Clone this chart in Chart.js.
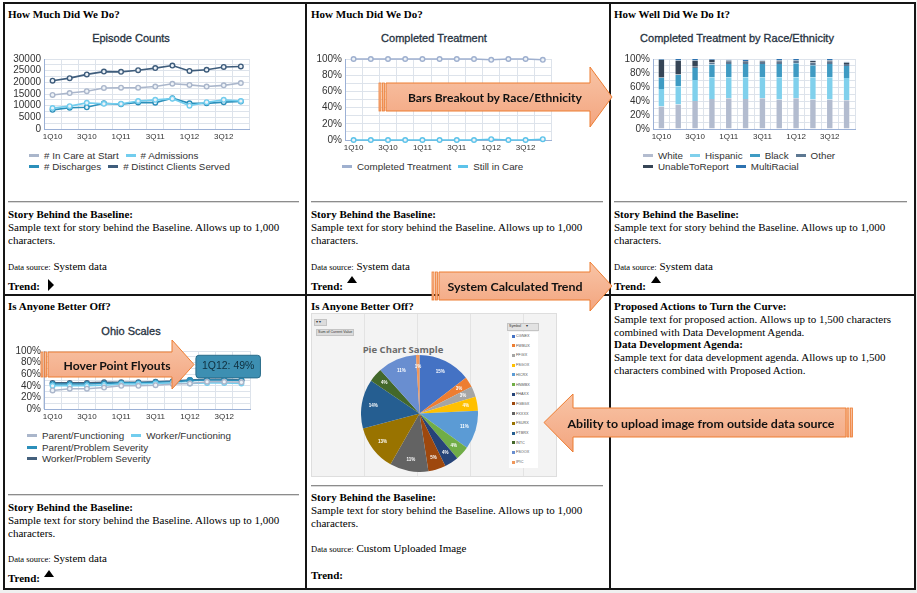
<!DOCTYPE html>
<html><head><meta charset="utf-8">
<script src="https://cdn.jsdelivr.net/npm/chart.js@4.4.1/dist/chart.umd.min.js"></script>
<style>
html,body{margin:0;padding:0;}
body{width:917px;height:593px;position:relative;overflow:hidden;background:#f0f0f0;color:#000;}
#sheet{position:absolute;left:0;top:0;width:916px;height:590px;background:#fff;}
.vl{position:absolute;width:2px;background:#151515;top:2px;height:588px;}
.hl{position:absolute;height:2px;background:#151515;left:3px;width:913px;}
.tx{position:absolute;font:11px/13px "Liberation Serif",serif;white-space:nowrap;}
.b{font-weight:bold;}
.sm{font-size:8.5px;}
.hr{position:absolute;height:0;border-top:1px solid #8c8c8c;border-bottom:1px solid #dadada;}
.ct{position:absolute;font:11px "Liberation Sans",sans-serif;color:#26323f;white-space:nowrap;transform:translateX(-50%);line-height:13px;-webkit-text-stroke:0.3px #26323f;}
.lg{position:absolute;font:9.8px/11.5px "Liberation Sans",sans-serif;color:#333;}
.row{display:flex;white-space:nowrap;}
.li{display:flex;align-items:center;margin-right:7px;}
.sw{display:inline-block;width:10px;height:3px;margin-right:5px;}
.tri-r{position:absolute;width:0;height:0;border-left:6px solid #000;border-top:6px solid transparent;border-bottom:6px solid transparent;}
.tri-u{position:absolute;width:0;height:0;border-bottom:7px solid #000;border-left:5px solid transparent;border-right:5px solid transparent;}
#pieimg{position:absolute;left:311px;top:313px;width:244px;height:162px;background:#f3f3f3;
 background-image:repeating-linear-gradient(90deg,transparent 0 52px,#e3e3e3 52px 53px);border:1px solid #dedede;}
.pbtn{position:absolute;background:#dcdcdc;border:1px solid #c4c4c4;font:3.6px/5px "Liberation Sans";color:#333;white-space:nowrap;padding:0 1px;}
.ptitle{position:absolute;left:403px;top:344px;transform:translateX(-50%);font:bold 9.5px/11px "Open Sans",sans-serif;color:#6a6a6a;white-space:nowrap;}
.pli{position:absolute;font:3.8px/4px "Liberation Sans";color:#555;white-space:nowrap;}
.pli i{display:inline-block;width:3px;height:3px;margin-right:1px;vertical-align:middle;}
svg{position:absolute;left:0;top:0;}
</style></head>
<body>
<div id="sheet"></div>
<script>
// ---------------- DATA ----------------
const quarters = ['1Q10','2Q10','3Q10','4Q10','1Q11','2Q11','3Q11','4Q11','1Q12','2Q12','3Q12','4Q12'];

// Episode Counts
const episodeSeries = ['# In Care at Start','# Admissions','# Discharges','# Distinct Clients Served'];
const inCareAtStart   = [14600,15400,16200,17600,17700,17700,18200,19400,18900,18200,18700,19700];
const admissions      = [9000,9800,11200,10800,10800,12000,12500,13000,10000,11500,12500,12000];
const discharges      = [8200,9100,9300,11000,10600,11400,11300,13200,11000,11000,11500,11800];
const distinctClients = [20700,21800,23400,24600,24500,25200,26100,27200,24900,25400,26600,26800];
const episodeTickLabels = ['0','5000','10000','15000','20000','25000','30000'];

// Completed Treatment (%)
const treatmentSeries = ['Completed Treatment','Still in Care'];
const completedTreatment = [100,100,100,100,100,100,100,100,99,100,100,99];
const stillInCare        = [0,0,0,0,0,0,0,0,1,0,0,1];
const pctTickLabels = ['0%','20%','40%','60%','80%','100%'];

// Completed Treatment by Race/Ethnicity (%)
const raceSeries = ['White','Hispanic','Black','Other','UnableToReport','MultiRacial'];
const raceWhite    = [32,35,40,43,44,43,44,42,44,42,42,41];
const raceHispanic = [25,26,30,31,30,31,30,32,30,32,32,32];
const raceBlack    = [16,16,17,18,19,19,19,19,20,17,19,17];
const raceOther    = [1,1,2,3,3,3,3,3,3,4,3,3];
const raceUnable   = [25,20,9,4,2,1,1,2,1,2,2,2];
const raceMulti    = [1,2,2,1,1,2,1,2,2,1,2,1];

// Ohio Scales (%)
const ohioSeries = ['Parent/Functioning','Worker/Functioning','Parent/Problem Severity','Worker/Problem Severity'];
const parentFunctioning = [32,35,35,37,40,40,41,43,44,47,47,46];
const workerFunctioning = [40,40,40,41,43,43,44,45,44,45,45,44];
const parentSeverity    = [43,43,43,44,45,45,46,47,49,50,50,49];
const workerSeverity    = [45,45,45,46,46,46,47,48,50,51,51,50];
const flyoutSeries = 2, flyoutIndex = 8;

// Pie Chart Sample (% share by symbol)
const pieSymbols = ['CGNEX','FWBUX','FFGIX','FSGOX','HICRX','HNMBX','FHAXX','FGBGX','FXXXX','FSURX','FTBRX','INTC','FSOOX','IPIC'];
const pieShares  = [15,3,3,4,11,4,4,5,11,13,14,4,11,1];

// ---------------- LAYOUT HELPERS ----------------
const sheet = document.getElementById('sheet');
function el(tag, cls, css, html){ const e=document.createElement(tag); if(cls) e.className=cls; if(css) e.style.cssText=css; if(html!==undefined) e.innerHTML=html; sheet.appendChild(e); return e; }

// borders
[3,305,609,914].forEach(x=>el('div','vl',`left:${x}px`));
[2,294,588].forEach(y=>el('div','hl',`top:${y}px`));

// panel texts
function storyBlock(x, topStory, sourceTop, trendTop, source){
  el('div','tx b',`left:${x}px;top:${topStory}px`,'Story Behind the Baseline:');
  el('div','tx',`left:${x}px;top:${topStory+13}px`,'Sample text for story behind the Baseline. Allows up to 1,000<br>characters.');
  el('div','tx',`left:${x}px;top:${sourceTop}px`,`<span class="sm">Data source:</span> ${source}`);
  el('div','tx b',`left:${x}px;top:${trendTop}px`,'Trend:');
}
el('div','tx b','left:8px;top:8px','How Much Did We Do?');
el('div','tx b','left:311px;top:8px','How Much Did We Do?');
el('div','tx b','left:614px;top:8px','How Well Did We Do It?');
el('div','tx b','left:8px;top:300px','Is Anyone Better Off?');
el('div','tx b','left:311px;top:300px','Is Anyone Better Off?');

el('div','hr','left:8px;top:201px;width:291px');
el('div','hr','left:311px;top:201px;width:292px');
el('div','hr','left:614px;top:201px;width:293px');
el('div','hr','left:8px;top:494px;width:291px');
el('div','hr','left:311px;top:485px;width:292px');

storyBlock(8,208,260,280,'System data');
storyBlock(311,208,260,280,'System data');
storyBlock(614,208,260,280,'System data');
storyBlock(8,501,552,572,'System data');
storyBlock(311,491,542,569,'Custom Uploaded Image');

el('div','tri-r','left:48px;top:279px');
el('div','tri-u','left:347px;top:276px');
el('div','tri-u','left:651px;top:276px');
el('div','tri-u','left:44px;top:570px');

el('div','tx','left:614px;top:300px;line-height:12.8px',
 '<b>Proposed Actions to Turn the Curve:</b><br>Sample text for proposed action. Allows up to 1,500 characters<br>combined with Data Development Agenda.<br><b>Data Development Agenda:</b><br>Sample text for data development agenda. Allows up to 1,500<br>characters combined with Proposed Action.');

// chart titles
el('div','ct','left:131px;top:32px','Episode Counts');
el('div','ct','left:434px;top:32px','Completed Treatment');
el('div','ct','left:737px;top:32px','Completed Treatment by Race/Ethnicity');
el('div','ct','left:131px;top:325px','Ohio Scales');

// legends
function legend(left, top, names, colors, rows){
  const box = el('div','lg',`left:${left}px;top:${top}px`);
  rows.forEach(r=>{
    const row=document.createElement('div'); row.className='row';
    r.forEach(i=>{ const it=document.createElement('span'); it.className='li';
      it.innerHTML=`<span class="sw" style="background:${colors[i]}"></span>${names[i]}`; row.appendChild(it);});
    box.appendChild(row);
  });
}
const epColors = ['#aab6cb','#72cdee','#2b8fba','#3f5d7c'];
const trColors = ['#9fb0cf','#5cc3ea'];
const raceColors = ['#b3bccf','#80d0ec','#3f9bc3','#5d7892','#364556','#2d72b0'];
const ohColors = ['#aab6cb','#72cdee','#2b8fba','#44607c'];
legend(29,149.5,episodeSeries,epColors,[[0,1],[2,3]]);
legend(342,160.5,treatmentSeries,trColors,[[0,1]]);
legend(643,149.5,raceSeries,raceColors,[[0,1,2,3],[4,5]]);
legend(27,430,ohioSeries,ohColors,[[0,1],[2],[3]]);

// ---------------- CHARTS ----------------
Chart.defaults.font.family = 'Liberation Sans';
Chart.defaults.animation = false;
const gridColor = '#dde3eb', axisColor = '#9cb1d6';

function canvas(left, top, w, h){
  const c=document.createElement('canvas'); c.width=w; c.height=h;
  c.style.cssText=`position:absolute;left:${left}px;top:${top}px;width:${w}px;height:${h}px`;
  sheet.appendChild(c); return c;
}
function xScale(stacked){
  return { type:'category', offset:true, stacked:!!stacked,
    grid:{offset:true,color:gridColor,drawTicks:false}, border:{color:axisColor},
    ticks:{autoSkip:false,maxRotation:0,minRotation:0,padding:3,color:'#333',font:{size:8},
      callback(v,i){ return i%2===0 ? this.getLabelForValue(v) : ''; }},
    afterFit(s){ s.height=14; } };
}
function yScale(max, step, labels, width, stacked){
  const every = max/(labels.length-1);
  return { min:0, max, stacked:!!stacked,
    grid:{color:gridColor,drawTicks:false}, border:{color:axisColor},
    ticks:{stepSize:step,autoSkip:false,padding:3,color:'#333',font:{size:10},
      callback(v){ return (Math.abs(v/every-Math.round(v/every))<1e-6) ? labels[Math.round(v/every)] : ''; }},
    afterFit(s){ s.width=width; } };
}
function lineDs(label, data, color){
  return { label, data, borderColor:color, backgroundColor:'#fff', borderWidth:1.6,
    pointRadius:2.3, pointBorderWidth:1.4, pointBackgroundColor:'#eef3f8', pointBorderColor:color,
    pointHoverRadius:3.2, pointHoverBackgroundColor:color, pointHoverBorderColor:color, tension:0 };
}
const baseOpts = (padTop, padRight) => ({ responsive:false, devicePixelRatio:1, animation:false,
  layout:{padding:{top:padTop,right:padRight,left:0,bottom:0}},
  plugins:{legend:{display:false},title:{display:false},tooltip:{enabled:false}},
  events:[] });

// Episode Counts
new Chart(canvas(4,50,250,93),{ type:'line',
  data:{labels:quarters,datasets:[
    lineDs(episodeSeries[0],inCareAtStart,epColors[0]),
    lineDs(episodeSeries[1],admissions,epColors[1]),
    lineDs(episodeSeries[2],discharges,epColors[2]),
    lineDs(episodeSeries[3],distinctClients,epColors[3])]},
  options:Object.assign(baseOpts(8,4),{scales:{x:xScale(),y:yScale(30000,2500,episodeTickLabels,40)}}) });

// Completed Treatment
new Chart(canvas(305,50,251,104),{ type:'line',
  data:{labels:quarters,datasets:[
    lineDs(treatmentSeries[0],completedTreatment,trColors[0]),
    lineDs(treatmentSeries[1],stillInCare,trColors[1])]},
  options:Object.assign(baseOpts(8,4),{clip:false,scales:{x:xScale(),y:yScale(100,10,pctTickLabels,40)}}) });

// Race/Ethnicity stacked bars
const raceData=[raceWhite,raceHispanic,raceBlack,raceOther,raceUnable,raceMulti];
new Chart(canvas(610,50,249,93),{ type:'bar',
  data:{labels:quarters,datasets:raceData.map((d,i)=>({label:raceSeries[i],data:d,backgroundColor:raceColors[i],
    borderColor:'rgba(255,255,255,0.35)',borderWidth:{left:1,right:1,top:0,bottom:0},categoryPercentage:1,barPercentage:0.44}))},
  options:Object.assign(baseOpts(9,4),{scales:{x:xScale(true),y:yScale(100,10,pctTickLabels,43,true)}}) });

// Ohio Scales with hover flyout
Chart.Tooltip.positioners.flyout = function(items){
  if(!items.length) return false;
  const p = items[0].element;
  return { x:p.x+6, y:p.y-14 };
};
const ohioChart = new Chart(canvas(4,342,262,81),{ type:'line',
  data:{labels:quarters,datasets:[
    lineDs(ohioSeries[0],parentFunctioning,ohColors[0]),
    lineDs(ohioSeries[1],workerFunctioning,ohColors[1]),
    lineDs(ohioSeries[2],parentSeverity,ohColors[2]),
    lineDs(ohioSeries[3],workerSeverity,ohColors[3])]},
  options:Object.assign(baseOpts(9,16),{
    scales:{x:xScale(),y:yScale(100,10,pctTickLabels,40)},
    plugins:{legend:{display:false},
      tooltip:{enabled:true,position:'flyout',xAlign:'left',yAlign:'center',caretSize:0,caretPadding:0,
        backgroundColor:'#3d8fb2',borderColor:'#2a6c8a',borderWidth:1,cornerRadius:3,
        displayColors:false,padding:{x:6,y:5},bodyColor:'#0f2f3e',bodyFont:{size:10.5},
        callbacks:{title:()=>'',label:(c)=>`${c.label}: ${c.parsed.y}%`}}}
  })});
ohioChart.setActiveElements([{datasetIndex:flyoutSeries,index:flyoutIndex}]);
ohioChart.tooltip.setActiveElements([{datasetIndex:flyoutSeries,index:flyoutIndex}],{x:0,y:0});
ohioChart.update();

// Pie chart sample (uploaded image look-alike)
el('div','','', '').id='pieimg';
el('div','pbtn','left:314px;top:319px;width:9px;height:5px','▾ ▾');
el('div','pbtn','left:316px;top:329px;height:5px','Sum of Current Value');
el('div','ptitle','','Pie Chart Sample');
el('div','','position:absolute;left:509px;top:332px;width:29px;height:136px;background:#fff');
el('div','pbtn','left:507px;top:323px;width:28px;height:6px;background:#e2e2e2','Symbol &nbsp;&nbsp;&nbsp;&nbsp;▾');
const pieColors=['#4472c4','#ed7d31','#a5a5a5','#ffc000','#5b9bd5','#70ad47','#264478','#9e480e','#636363','#997300','#255e91','#43682b','#698ed0','#f1975a'];
pieSymbols.forEach((s,i)=>{ el('div','pli',`left:512px;top:${334+i*9.7}px`,`<i style="background:${pieColors[i]}"></i>${s}`); });

const pieLabels = { id:'pieLabels', afterDatasetsDraw(chart){
  const ctx=chart.ctx, meta=chart.getDatasetMeta(0);
  ctx.save(); ctx.fillStyle='#fff'; ctx.font='bold 4.5px "Liberation Sans"'; ctx.textAlign='center'; ctx.textBaseline='middle';
  meta.data.forEach((a,i)=>{ const m=(a.startAngle+a.endAngle)/2, r=a.outerRadius*0.8;
    ctx.fillText(pieShares[i]+'%', a.x+Math.cos(m)*r, a.y+Math.sin(m)*r); });
  ctx.restore(); } };
new Chart(canvas(361,355,117,117),{ type:'pie',
  data:{labels:pieSymbols,datasets:[{data:pieShares,backgroundColor:pieColors,borderWidth:0}]},
  options:{responsive:false,devicePixelRatio:1,animation:false,layout:{padding:0},events:[],
    plugins:{legend:{display:false},tooltip:{enabled:false}}},
  plugins:[pieLabels] });

// ---------------- CALLOUT ARROWS ----------------
const NS='http://www.w3.org/2000/svg';
const svg=document.createElementNS(NS,'svg'); svg.setAttribute('width',917); svg.setAttribute('height',593);
sheet.appendChild(svg);
function stripes(sx,by1,by2){
  return `<rect x="${sx}" y="${by1}" width="2" height="${by2-by1}" fill="url(#ag)" stroke="#ed7d31" stroke-width="0.8"/>
   <rect x="${sx+3.5}" y="${by1}" width="2" height="${by2-by1}" fill="url(#ag)" stroke="#ed7d31" stroke-width="0.8"/>`;
}
function rightArrow(sx, bx, hx, tip, by1, by2, hy1, hy2){
  const cy=(by1+by2)/2;
  return stripes(sx,by1,by2) + `<polygon points="${bx},${by1} ${hx},${by1} ${hx},${hy1} ${tip},${cy} ${hx},${hy2} ${hx},${by2} ${bx},${by2}" fill="url(#ag)" stroke="#ed7d31" stroke-width="1"/>`;
}
function leftArrow(tip, hx, bx, sx, by1, by2, hy1, hy2){
  const cy=(by1+by2)/2;
  return `<polygon points="${tip},${cy} ${hx},${hy1} ${hx},${by1} ${bx},${by1} ${bx},${by2} ${hx},${by2} ${hx},${hy2}" fill="url(#ag)" stroke="#ed7d31" stroke-width="1"/>` + stripes(sx,by1,by2);
}
function label(x,y,t,w){ return `<text x="${x}" y="${y}" text-anchor="middle" dominant-baseline="central" font-family="Lato" font-weight="bold" font-size="12" fill="#111" textLength="${w}" lengthAdjust="spacingAndGlyphs">${t}</text>`; }
svg.innerHTML = `<defs><linearGradient id="ag" x1="0" y1="0" x2="0" y2="1">
 <stop offset="0" stop-color="#f8c4a6"/><stop offset="1" stop-color="#f3a57f"/></linearGradient></defs>`
 + rightArrow(379,386,590,612,83,111,67,127) + label(495,97,'Bars Breakout by Race/Ethnicity',174)
 + rightArrow(432,439,590,612,272,300,262,311) + label(515,286.5,'System Calculated Trend',135)
 + rightArrow(41,48,172,194,352,377,340,389) + label(117,365,'Hover Point Flyouts',107)
 + leftArrow(544,573,846,847,408,437,394,452) + label(701,423,'Ability to upload image from outside data source',267);
</script>
</body></html>
